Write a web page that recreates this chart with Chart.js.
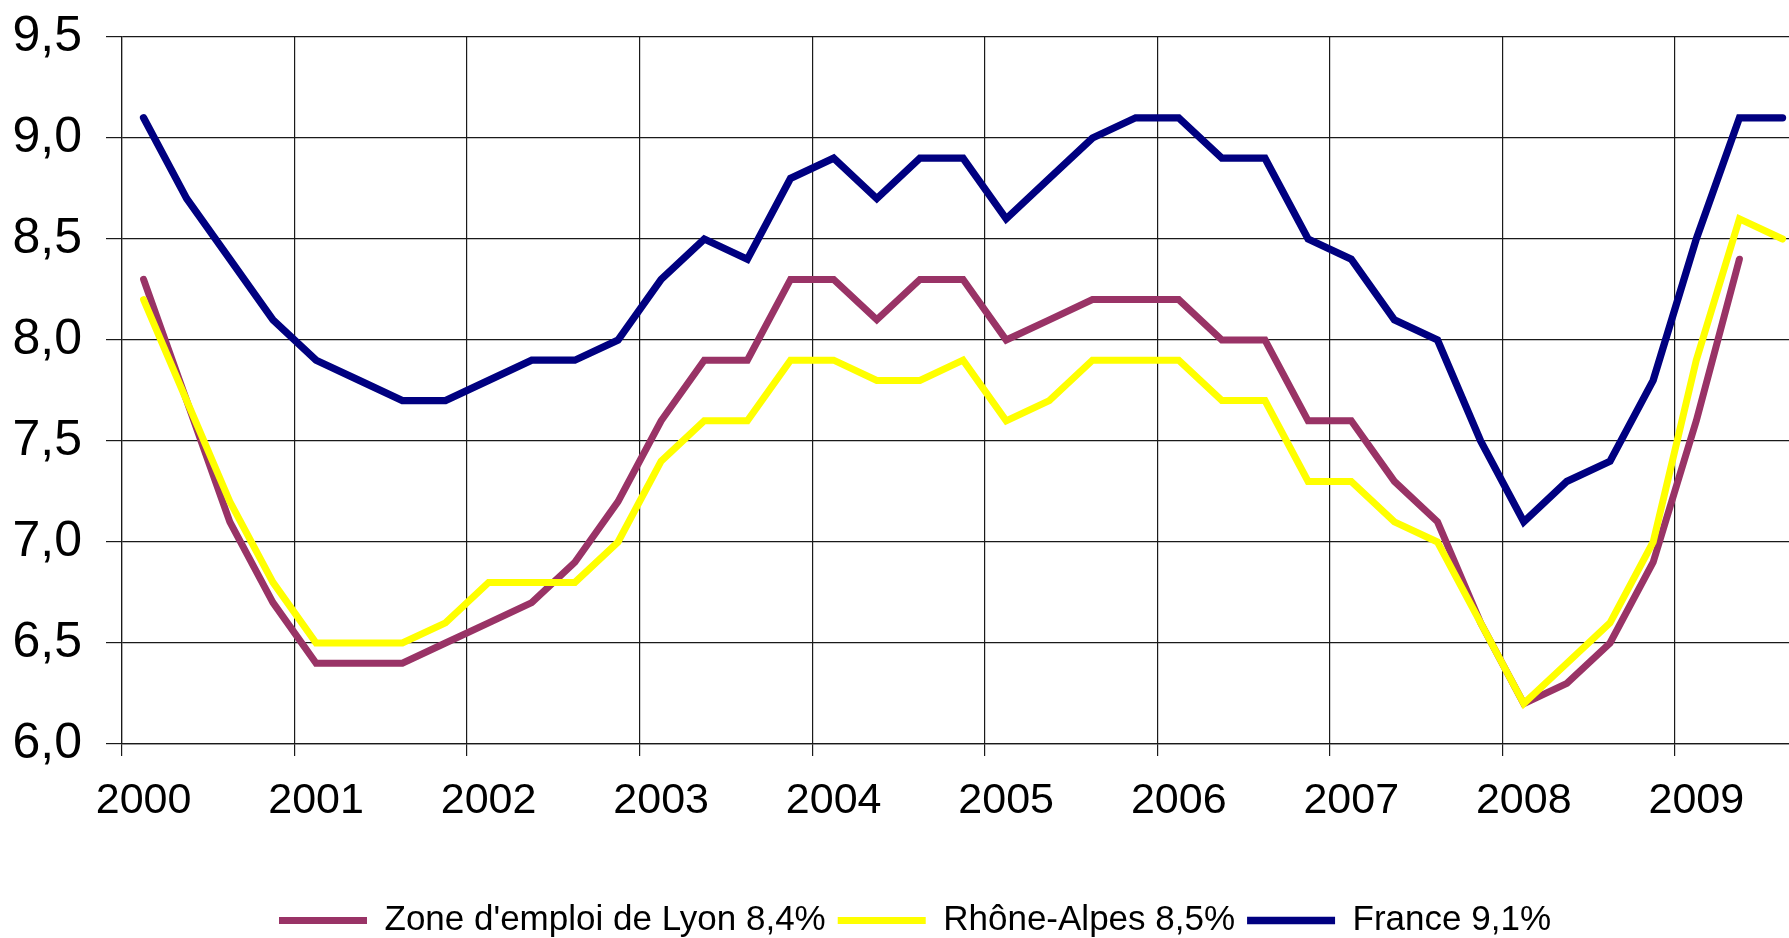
<!DOCTYPE html>
<html>
<head>
<meta charset="utf-8">
<script src="https://cdn.jsdelivr.net/npm/chart.js@4/dist/chart.umd.min.js"></script>
<style>
html, body { margin: 0; padding: 0; background: #fff; overflow: hidden; }
#wrap { width: 1789px; height: 938px; overflow: hidden; }
</style>
</head>
<body>
<div id="wrap"><canvas id="chomage" width="1830" height="948"></canvas></div>
<script>
// trimestres 2000 T1 .. 2009 T3, un libellé par année
let years = ['2000', '2001', '2002', '2003', '2004', '2005', '2006', '2007', '2008', '2009']

let lyon = [8.3, 7.7, 7.1, 6.7, 6.4, 6.4, 6.4, 6.5, 6.6, 6.7, 6.9, 7.2, 7.6, 7.9, 7.9, 8.3, 8.3, 8.1, 8.3, 8.3,
  8.0, 8.1, 8.2, 8.2, 8.2, 8.0, 8.0, 7.6, 7.6, 7.3, 7.1, 6.6, 6.2, 6.3, 6.5, 6.9, 7.6, 8.4, null]

let rhoneAlpes = [8.2, 7.7, 7.2, 6.8, 6.5, 6.5, 6.5, 6.6, 6.8, 6.8, 6.8, 7.0, 7.4, 7.6, 7.6, 7.9, 7.9, 7.8, 7.8, 7.9,
  7.6, 7.7, 7.9, 7.9, 7.9, 7.7, 7.7, 7.3, 7.3, 7.1, 7.0, 6.6, 6.2, 6.4, 6.6, 7.0, 7.9, 8.6, 8.5]

let france = [9.1, 8.7, 8.4, 8.1, 7.9, 7.8, 7.7, 7.7, 7.8, 7.9, 7.9, 8.0, 8.3, 8.5, 8.4, 8.8, 8.9, 8.7, 8.9, 8.9,
  8.6, 8.8, 9.0, 9.1, 9.1, 8.9, 8.9, 8.5, 8.4, 8.1, 8.0, 7.5, 7.1, 7.3, 7.4, 7.8, 8.5, 9.1, 9.1]

let seriesNames = ["Zone d'emploi de Lyon 8,4%", 'Rhône-Alpes 8,5%', 'France 9,1%']


function points(values) {
  return values.map((v, i) => ({ x: i, y: v }))
}

const gridColor = '#1a1a1a'
const font = 'Liberation Sans, Arial, sans-serif'

const ctx = document.getElementById('chomage').getContext('2d')

const chart = new Chart(ctx, {
  type: 'line',
  data: {
    datasets: [{
      label: seriesNames[0],
      data: points(lyon),
      borderColor: '#993366',
      borderWidth: 7,
      order: 2
    }, {
      label: seriesNames[1],
      data: points(rhoneAlpes),
      borderColor: '#ffff00',
      borderWidth: 7,
      order: 1
    }, {
      label: seriesNames[2],
      data: points(france),
      borderColor: '#000080',
      borderWidth: 7.3,
      order: 0
    }]
  },
  options: {
    responsive: false,
    animation: false,
    layout: { padding: { top: 37, left: 0, right: 0, bottom: 0 } },
    elements: {
      point: { radius: 0 },
      line: { tension: 0, fill: false, borderCapStyle: 'round', borderJoinStyle: 'miter' }
    },
    plugins: {
      tooltip: { enabled: false },
      legend: {
        position: 'bottom',
        labels: {
          usePointStyle: true,
          pointStyle: 'line',
          pointStyleWidth: 88,
          padding: 12,
          color: '#000',
          font: { family: font, size: 35 },
          sort: (a, b) => a.datasetIndex - b.datasetIndex
        }
      }
    },
    scales: {
      x: {
        type: 'linear',
        min: -0.5,
        max: 39.1,
        afterBuildTicks: axis => {
          const t = []
          years.forEach((y, k) => {
            t.push({ value: 4 * k - 0.5 })
            t.push({ value: 4 * k })
          })
          axis.ticks = t
        },
        afterFit: scale => { scale.height = 147 },
        grid: {
          color: c => (c.tick && c.tick.value % 1 !== 0) ? gridColor : 'rgba(0,0,0,0)',
          lineWidth: 1.2,
          tickLength: 12
        },
        border: { color: gridColor, width: 1.2 },
        ticks: {
          autoSkip: false,
          maxRotation: 0,
          padding: 19,
          color: '#000',
          font: { family: font, size: 43 },
          callback: v => (v % 4 === 0) ? years[v / 4] : ''
        }
      },
      y: {
        min: 6,
        max: 9.5,
        afterFit: scale => {
          scale.width = 122
          scale.paddingTop = 0
          scale.paddingBottom = 0
        },
        grid: { color: gridColor, lineWidth: 1.2, tickLength: 16 },
        border: { color: gridColor, width: 1.2 },
        ticks: {
          stepSize: 0.5,
          padding: 24,
          color: '#000',
          font: { family: font, size: 50 },
          callback: v => v.toFixed(1).replace('.', ',')
        }
      }
    }
  }
})
</script>
</body>
</html>
